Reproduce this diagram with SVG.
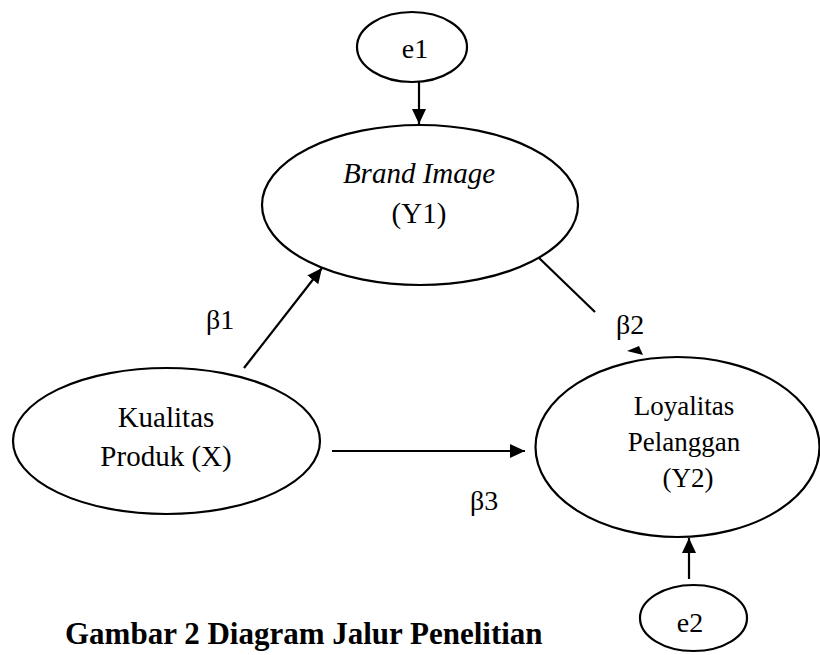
<svg xmlns="http://www.w3.org/2000/svg" width="820" height="655" viewBox="0 0 820 655">
  <style>
    .node { fill: #ffffff; stroke: #000000; stroke-width: 2.2; }
    .lbl { font-family: "Liberation Serif", "Times New Roman", serif; fill: #000000; text-anchor: middle; }
    .beta { font-family: "Liberation Serif", "Times New Roman", serif; fill: #000000; font-size: 28px; }
    .edge { stroke: #000000; stroke-width: 2.2; fill: none; }
    .cap { font-family: "Liberation Serif", "Times New Roman", serif; font-weight: bold; fill: #000000; font-size: 31px; }
  </style>
  <defs>
    <marker id="arrow" markerUnits="userSpaceOnUse" markerWidth="16" markerHeight="14" refX="15" refY="7" orient="auto">
      <path d="M0,0 L15,7 L0,14 z" fill="#000000"/>
    </marker>
  </defs>
  <rect width="820" height="655" fill="#ffffff"/>

  <g id="connectors">
    <line class="edge" x1="419" y1="82" x2="419" y2="124" marker-end="url(#arrow)"/>
    <line class="edge" x1="244" y1="368" x2="322" y2="268" marker-end="url(#arrow)"/>
    <line class="edge" x1="537" y1="256" x2="595" y2="312"/>
    <polygon points="627,351 643,355 639,346" fill="#000000"/>
    <line class="edge" x1="332" y1="451" x2="525" y2="451" marker-end="url(#arrow)"/>
    <line class="edge" x1="689" y1="579" x2="689" y2="538" marker-end="url(#arrow)"/>
  </g>

  <g id="e1">
    <ellipse class="node" cx="412" cy="47" rx="55" ry="35"/>
    <text class="lbl" x="415" y="58" font-size="28">e1</text>
  </g>

  <g id="brand-image">
    <ellipse class="node" cx="420" cy="205" rx="158" ry="80"/>
    <text class="lbl" x="419" y="183" font-size="29" font-style="italic">Brand Image</text>
    <text class="lbl" x="419" y="223" font-size="29">(Y1)</text>
  </g>

  <g id="kualitas-produk">
    <ellipse class="node" cx="166.5" cy="441" rx="153.5" ry="73"/>
    <text class="lbl" x="166" y="427" font-size="29">Kualitas</text>
    <text class="lbl" x="166" y="466" font-size="29">Produk (X)</text>
  </g>

  <g id="loyalitas-pelanggan">
    <ellipse class="node" cx="677.5" cy="447" rx="142" ry="90"/>
    <text class="lbl" x="684" y="415" font-size="27">Loyalitas</text>
    <text class="lbl" x="684" y="451" font-size="27">Pelanggan</text>
    <text class="lbl" x="688" y="487" font-size="27">(Y2)</text>
  </g>

  <g id="e2">
    <ellipse class="node" cx="693.5" cy="618" rx="53.5" ry="33"/>
    <text class="lbl" x="690" y="632" font-size="28">e2</text>
  </g>

  <g id="labels">
    <text class="beta" x="206" y="329">β1</text>
    <text class="beta" x="616" y="334">β2</text>
    <text class="beta" x="470" y="510">β3</text>
  </g>

  <text class="cap" x="65" y="644">Gambar 2 Diagram Jalur Penelitian</text>
</svg>
